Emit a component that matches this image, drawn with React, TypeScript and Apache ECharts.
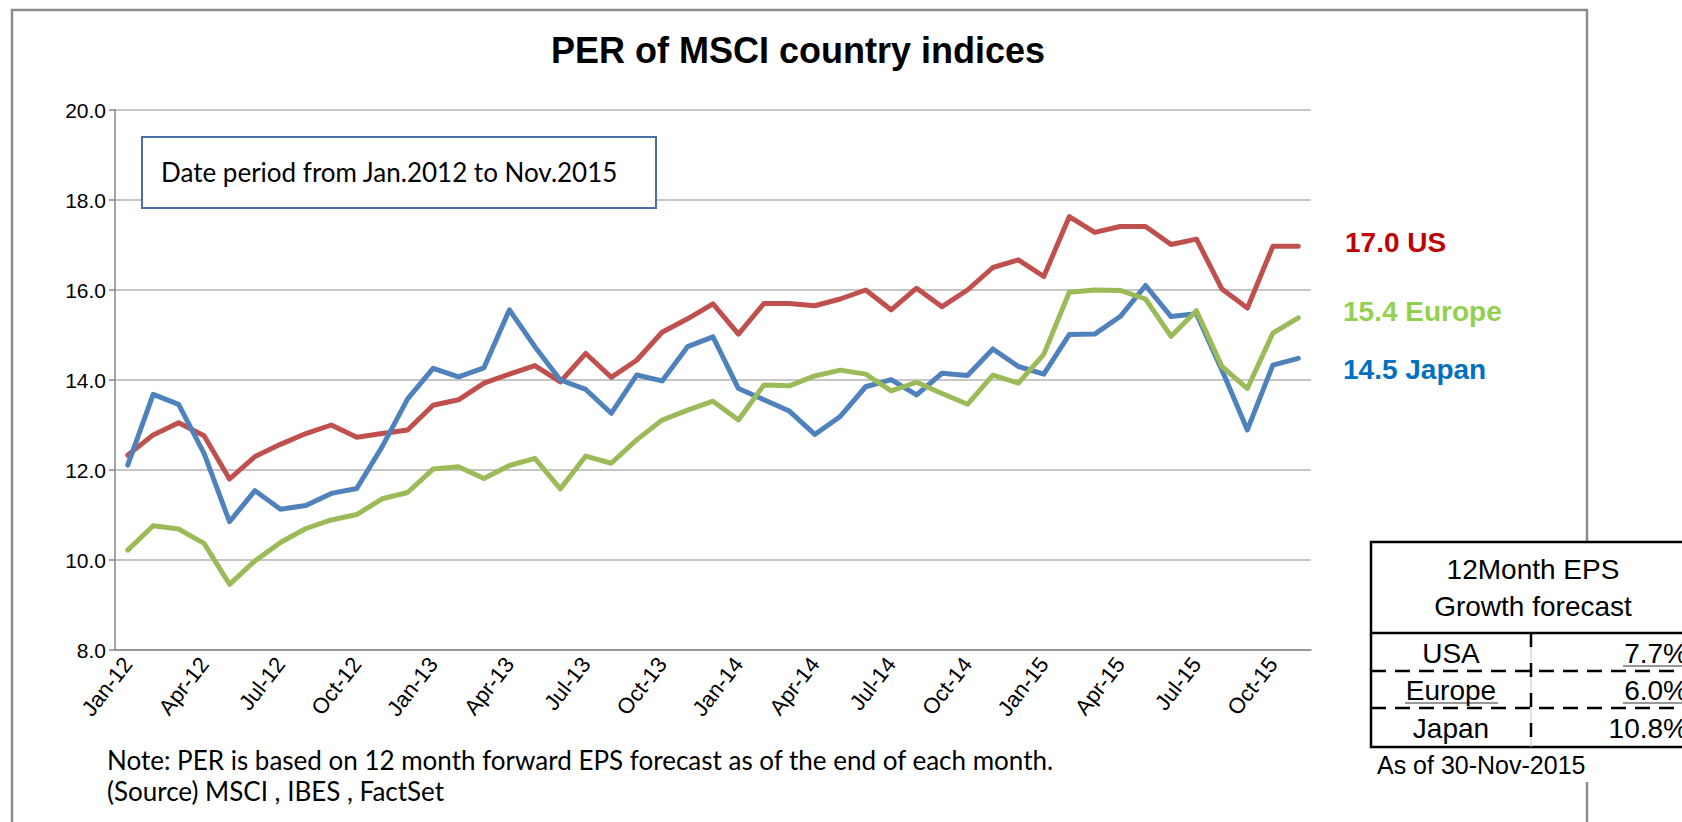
import React, { useEffect, useRef } from "react";
import * as echarts from "echarts";

const MONTHS = [
  "Jan-12", "Feb-12", "Mar-12", "Apr-12", "May-12", "Jun-12", "Jul-12", "Aug-12", "Sep-12", "Oct-12", "Nov-12", "Dec-12",
  "Jan-13", "Feb-13", "Mar-13", "Apr-13", "May-13", "Jun-13", "Jul-13", "Aug-13", "Sep-13", "Oct-13", "Nov-13", "Dec-13",
  "Jan-14", "Feb-14", "Mar-14", "Apr-14", "May-14", "Jun-14", "Jul-14", "Aug-14", "Sep-14", "Oct-14", "Nov-14", "Dec-14",
  "Jan-15", "Feb-15", "Mar-15", "Apr-15", "May-15", "Jun-15", "Jul-15", "Aug-15", "Sep-15", "Oct-15", "Nov-15",
];

const US = [
  12.33, 12.78, 13.05, 12.76, 11.8, 12.3, 12.57, 12.81, 13.0, 12.73, 12.81, 12.89,
  13.44, 13.56, 13.93, 14.13, 14.32, 13.96, 14.59, 14.06, 14.44, 15.06, 15.36, 15.69,
  15.02, 15.7, 15.7, 15.65, 15.8, 16.0, 15.56, 16.04, 15.63, 16.0, 16.5, 16.67,
  16.3, 17.63, 17.28, 17.41, 17.41, 17.01, 17.13, 16.02, 15.6, 16.97, 16.97,
];

const EUROPE = [
  10.22, 10.76, 10.69, 10.37, 9.46, 9.98, 10.39, 10.7, 10.89, 11.01, 11.36, 11.5,
  12.02, 12.07, 11.81, 12.1, 12.26, 11.58, 12.31, 12.15, 12.67, 13.11, 13.33, 13.53,
  13.11, 13.89, 13.87, 14.09, 14.22, 14.13, 13.76, 13.95, 13.7, 13.46, 14.11, 13.93,
  14.57, 15.95, 16.0, 15.99, 15.8, 14.97, 15.54, 14.3, 13.81, 15.04, 15.38,
];

const JAPAN = [
  12.11, 13.68, 13.46, 12.37, 10.85, 11.54, 11.13, 11.21, 11.48, 11.59, 12.52, 13.58,
  14.26, 14.07, 14.27, 15.56, 14.74, 14.0, 13.79, 13.26, 14.11, 13.98, 14.74, 14.96,
  13.81, 13.56, 13.31, 12.79, 13.19, 13.85, 14.01, 13.67, 14.15, 14.1, 14.69, 14.3,
  14.13, 15.01, 15.02, 15.41, 16.1, 15.41, 15.47, 14.22, 12.89, 14.33, 14.48,
];

const TABLE_ROWS = ["USA", "Europe", "Japan"];
const TABLE_VALUES = ["7.7%", "6.0%", "10.8%"];

const TITLE = "PER of MSCI country indices";
const PERIOD = "Date period from Jan.2012 to Nov.2015";
const NOTE1 = "Note: PER is based on 12 month forward EPS forecast as of the end of each month.";
const NOTE2 = "(Source) MSCI , IBES , FactSet";
const AS_OF = "As of 30-Nov-2015";

const ARIAL = '"Liberation Sans", Arial, sans-serif';
const CALIBRI = 'Lato, "Open Sans", sans-serif';

const C_US = "#C0504D";
const C_EU = "#9BBB59";
const C_JP = "#4F81BD";

export default function App() {
  const ref = useRef<HTMLDivElement>(null);

  useEffect(() => {
    if (!ref.current) return;
    const chart = echarts.init(ref.current, null, { renderer: "svg" });

    const last = (a: number[]) => a[a.length - 1].toFixed(1);

    const txt = (text: string, x: number, y: number, size: number, opts: any = {}) => ({
      type: "text",
      x,
      y,
      z: opts.z ?? 20,
      style: {
        text,
        fill: opts.fill ?? "#000",
        fontSize: size,
        fontFamily: opts.family ?? ARIAL,
        fontWeight: opts.weight ?? "normal",
        align: opts.align ?? "left",
        textAlign: opts.align ?? "left",
        textVerticalAlign: "middle",
        verticalAlign: "middle",
      },
    });
    const ln = (x1: number, y1: number, x2: number, y2: number, opts: any = {}) => ({
      type: "line",
      z: opts.z ?? 22,
      shape: { x1, y1, x2, y2 },
      style: {
        stroke: opts.stroke ?? "#000",
        lineWidth: opts.lw ?? 2,
        lineDash: opts.dash ?? null,
      },
    });

    const tLeft = 1371;
    const tTop = 542;
    const tRight = 1700;
    const tMid = 1531;
    const rowY = [653, 690, 728];

    chart.setOption({
      animation: false,
      backgroundColor: "#fff",
      grid: { left: 115, top: 110, width: 1196, height: 540, containLabel: false },
      xAxis: {
        type: "category",
        data: MONTHS,
        boundaryGap: true,
        axisLine: { lineStyle: { color: "#868686", width: 1.5 } },
        axisTick: { interval: 2, length: 7, lineStyle: { color: "#868686", width: 1.5 } },
        axisLabel: {
          interval: 2,
          rotate: 52,
          margin: 10,
          fontSize: 22,
          fontFamily: ARIAL,
          color: "#000",
        },
        splitLine: { show: false },
      },
      yAxis: {
        type: "value",
        min: 8,
        max: 20,
        interval: 2,
        axisLine: { show: true, lineStyle: { color: "#868686", width: 1.5 } },
        axisTick: { show: true, length: 6, lineStyle: { color: "#868686", width: 1.5 } },
        axisLabel: {
          margin: 9,
          fontSize: 21,
          fontFamily: ARIAL,
          color: "#000",
          formatter: (v: number) => v.toFixed(1),
        },
        splitLine: { lineStyle: { color: "#B3B3B3", width: 1.5 } },
      },
      series: [
        { name: "US", type: "line", data: US, showSymbol: false, symbol: "none", lineStyle: { color: C_US, width: 5, cap: "round", join: "round" }, itemStyle: { color: C_US } },
        { name: "Japan", type: "line", data: JAPAN, showSymbol: false, symbol: "none", lineStyle: { color: C_JP, width: 5, cap: "round", join: "round" }, itemStyle: { color: C_JP } },
        { name: "Europe", type: "line", data: EUROPE, showSymbol: false, symbol: "none", lineStyle: { color: C_EU, width: 5, cap: "round", join: "round" }, itemStyle: { color: C_EU } },
      ],
      graphic: {
        elements: [
          {
            type: "rect",
            z: 1,
            shape: { x: 12, y: 10, width: 1575, height: 840 },
            style: { fill: "none", stroke: "#8C8C8C", lineWidth: 2.5 },
          },
          txt(TITLE, 798, 50, 36, { weight: "bold", align: "center" }),
          {
            type: "rect",
            z: 15,
            shape: { x: 142, y: 137, width: 514, height: 71 },
            style: { fill: "#fff", stroke: "#4A6FA5", lineWidth: 2 },
          },
          txt(PERIOD, 161, 172, 26, { family: CALIBRI }),
          txt(`${last(US)} US`, 1345, 242, 28, { weight: "bold", fill: "#C00000" }),
          txt(`${last(EUROPE)} Europe`, 1343, 311, 28, { weight: "bold", fill: "#92D050" }),
          txt(`${last(JAPAN)} Japan`, 1343, 369, 28, { weight: "bold", fill: "#0070C0" }),
          txt(NOTE1, 107, 760, 26, { family: CALIBRI }),
          txt(NOTE2, 107, 791, 26, { family: CALIBRI }),
          {
            type: "rect",
            z: 18,
            shape: { x: tLeft, y: 747, width: 330, height: 35 },
            style: { fill: "#fff", stroke: "none" },
          },
          {
            type: "rect",
            z: 19,
            shape: { x: tLeft, y: tTop, width: tRight - tLeft, height: 747 - tTop },
            style: { fill: "#fff", stroke: "#000", lineWidth: 2.5 },
          },
          ln(tLeft, 633, tRight, 633, { lw: 2.5 }),
          ln(tLeft, 671, tRight, 671, { lw: 2.5, dash: [15, 9] }),
          ln(tLeft, 708, tRight, 708, { lw: 2.5, dash: [15, 9] }),
          ln(tMid, 633, tMid, 747, { lw: 1, stroke: "#C8C8C8" }),
          ln(tMid, 633, tMid, 747, { lw: 2.5, dash: [14, 16] }),
          ln(1405, 703, 1498, 703, { lw: 1.2, stroke: "#333" }),
          ln(1623, 666, 1700, 666, { lw: 1.2, stroke: "#333" }),
          ln(1623, 703, 1700, 703, { lw: 1.2, stroke: "#333" }),
          txt("12Month EPS", 1533, 569, 28, { align: "center", z: 25 }),
          txt("Growth forecast", 1533, 606, 28, { align: "center", z: 25 }),
          ...TABLE_ROWS.map((r, i) => txt(r, 1451, rowY[i], 28, { align: "center", z: 25 })),
          ...TABLE_VALUES.map((v, i) => txt(v, 1688, rowY[i], 28, { align: "right", z: 25 })),
          txt(AS_OF, 1377, 765, 25, { z: 25 }),
        ],
      },
    });

    return () => chart.dispose();
  }, []);

  return (
    <div
      ref={ref}
      style={{ position: "absolute", left: 0, top: 0, width: 1682, height: 822, background: "#fff" }}
    />
  );
}
